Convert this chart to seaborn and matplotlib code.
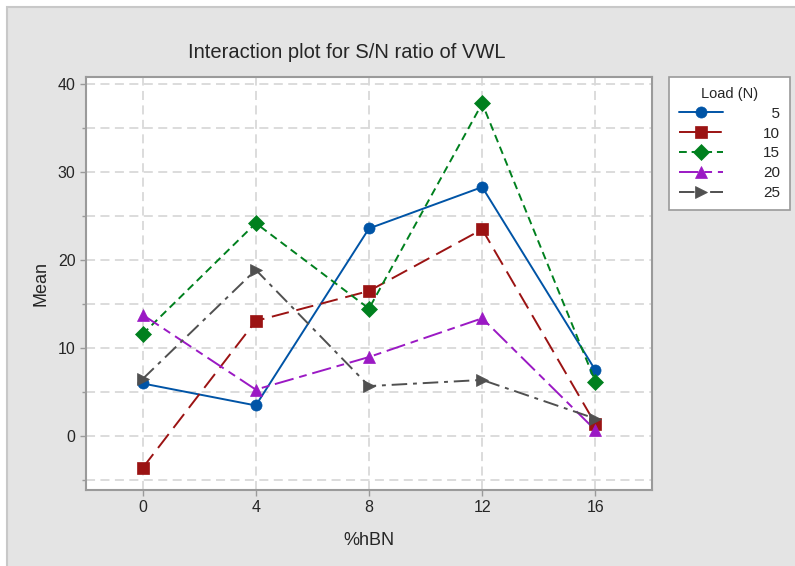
import pandas as pd
import numpy as np
import seaborn as sns
from matplotlib import pyplot as plt
from matplotlib.patches import Rectangle
from matplotlib.ticker import MultipleLocator

# values
hbn = [0, 4, 8, 12, 16]
loads = ["5", "10", "15", "20", "25"]
load5 = [6.0, 3.5, 23.6, 28.3, 7.5]
load10 = [-3.6, 13.1, 16.5, 23.5, 1.4]
load15 = [11.6, 24.2, 14.5, 37.8, 6.2]
load20 = [13.8, 5.3, 9.0, 13.4, 0.7]
load25 = [6.5, 18.9, 5.7, 6.4, 2.0]

rows = []
for name, vals in zip(loads, [load5, load10, load15, load20, load25]):
    for x, v in zip(hbn, vals):
        rows.append({"%hBN": x, "Mean": v, "Load (N)": name})
df = pd.DataFrame(rows)

palette = {"5": "#0054a6", "10": "#9b1313", "15": "#00801e", "20": "#9b19c4", "25": "#505050"}
markers = {"5": "o", "10": "s", "15": "D", "20": "^", "25": ">"}
dashes = {"5": "", "10": (9, 4), "15": (4, 2.5), "20": (10, 3, 4, 3), "25": (8, 3, 2, 3)}

sns.set_style("white")
plt.rcParams["font.family"] = ["Liberation Sans", "DejaVu Sans"]

fig = plt.figure(figsize=(7.95, 5.66), dpi=100)
fig.patch.set_facecolor("white")
fig.patches.append(Rectangle((7 / 795, -0.01), 1.0, 1 - 7 / 566 + 0.01, transform=fig.transFigure,
                             facecolor="#e4e4e4", edgecolor="#c8c8c8", linewidth=1.5, zorder=-10))
ax = fig.add_axes([86 / 795, 1 - 490 / 566, (652 - 86) / 795, (490 - 77) / 566])

sns.lineplot(data=df, x="%hBN", y="Mean", hue="Load (N)", style="Load (N)",
             palette=palette, markers=markers, dashes=dashes, linewidth=1.4,
             markersize=8, markeredgewidth=0.5, ax=ax)
for ln in ax.lines:
    ln.set_markeredgecolor(ln.get_color())

ax.set_xlim(-2, 18)
ax.set_ylim(-6.1, 40.8)
ax.set_xticks(hbn)
ax.yaxis.set_major_locator(MultipleLocator(10))
ax.yaxis.set_minor_locator(MultipleLocator(5))
ax.grid(True, which="both", axis="y", color="#d9d9d9", linestyle=(0, (5, 3)), linewidth=1.3, zorder=0)
ax.grid(True, which="major", axis="x", color="#d9d9d9", linestyle=(0, (5, 3)), linewidth=1.3, zorder=0)
ax.set_axisbelow(True)
for s in ax.spines.values():
    s.set_color("#9a9a9a")
    s.set_linewidth(1.5)
ax.tick_params(which="both", direction="out", color="#9a9a9a", length=4, width=1,
               labelsize=11.5, left=True, bottom=True)
ax.tick_params(which="minor", length=3)
ax.set_xlabel("%hBN", fontsize=13, labelpad=12)
ax.set_ylabel("Mean", fontsize=13, labelpad=6)

fig.text(347 / 795, 1 - 52 / 566, "Interaction plot for S/N ratio of VWL", fontsize=14.5,
         ha="center", va="center")

handles, labels = ax.get_legend_handles_labels()
labels = [("\u2007" * (2 - len(l))) + l for l in labels]
leg = ax.legend(handles, labels, title="Load (N)", loc="upper left",
                bbox_to_anchor=(669 / 795, 1 - 77 / 566), bbox_transform=fig.transFigure,
                borderaxespad=0, frameon=True, fancybox=False, edgecolor="#9a9a9a", framealpha=1,
                fontsize=11, title_fontsize=10.5, handlelength=2.9, handletextpad=2.6,
                borderpad=0.65, labelspacing=0.38, markerscale=1.0)
leg.get_frame().set_linewidth(1.2)

fig.savefig("out.png", dpi=100)
